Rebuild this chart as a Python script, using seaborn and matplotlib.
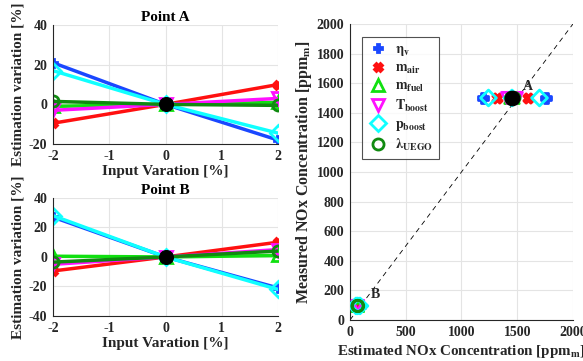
import numpy as np
import pandas as pd
import matplotlib
matplotlib.use("Agg")
import matplotlib.pyplot as plt
import seaborn as sns

# ---------------- data ----------------
input_var = [-2, 0, 2]
variables = ["eta_v", "m_air", "m_fuel", "T_boost", "p_boost", "lambda"]
labels = [r"$\mathbf{\eta_v}$", r"$\mathbf{m_{air}}$", r"$\mathbf{m_{fuel}}$",
          r"$\mathbf{T_{boost}}$", r"$\mathbf{p_{boost}}$", r"$\mathbf{\lambda_{UEGO}}$"]

pointA_eta_v = [21, 0, -18]
pointA_m_air = [-9.5, 0, 10]
pointA_m_fuel = [-1, 0, 1]
pointA_T_boost = [-3, 0, 3]
pointA_p_boost = [17, 0, -14.5]
pointA_lambda = [1.5, 0, -0.5]

pointB_eta_v = [27, 0, -21]
pointB_m_air = [-9.5, 0, 10]
pointB_m_fuel = [0.5, 0, 1]
pointB_T_boost = [-5, 0, 5]
pointB_p_boost = [28, 0, -22]
pointB_lambda = [-3.5, 0, 4]

nominal_est = {"A": 1453, "B": 70}
measured = {"A": 1500, "B": 95}

colors = ["#1a47ff", "#ff1010", "#10e010", "#ff10ff", "#10ffff", "#108a10"]
markers = ["P", "X", "^", "v", "D", "o"]

ptA = [pointA_eta_v, pointA_m_air, pointA_m_fuel, pointA_T_boost, pointA_p_boost, pointA_lambda]
ptB = [pointB_eta_v, pointB_m_air, pointB_m_fuel, pointB_T_boost, pointB_p_boost, pointB_lambda]

rows = []
for pt, series in (("A", ptA), ("B", ptB)):
    for v, vals in zip(variables, series):
        for x, y in zip(input_var, vals):
            rows.append({"point": pt, "var": v, "x": x, "y": y,
                         "est": nominal_est[pt] * (1 + y / 100.0), "meas": measured[pt]})
df = pd.DataFrame(rows)

# ---------------- style ----------------
sns.set_theme(style="white")
plt.rcParams["font.family"] = ["Liberation Serif", "DejaVu Serif"]
plt.rcParams["font.weight"] = "bold"
plt.rcParams["axes.labelweight"] = "bold"
plt.rcParams["axes.titleweight"] = "bold"
plt.rcParams["mathtext.fontset"] = "stix"
plt.rcParams["axes.unicode_minus"] = False
tick_col = "#262626"

fig = plt.figure(figsize=(5.83, 3.61), dpi=100)
axA = fig.add_axes([0.0909, 0.601, 0.386, 0.3296])
axB = fig.add_axes([0.0909, 0.1247, 0.386, 0.327])
axR = fig.add_axes([0.6003, 0.1136, 0.3825, 0.82])


def style_ax(ax):
    ax.grid(True, color="#e4e4e4", linewidth=0.8)
    ax.set_axisbelow(True)
    for s in ["top", "right"]:
        ax.spines[s].set_visible(False)
    for s in ["left", "bottom"]:
        ax.spines[s].set_color(tick_col)
        ax.spines[s].set_linewidth(0.8)
    ax.tick_params(direction="in", length=3, width=0.8, colors=tick_col,
                   labelsize=10, pad=4)
    for lab in ax.get_xticklabels() + ax.get_yticklabels():
        lab.set_fontweight("bold")


def hollow(m):
    return m in ("^", "v", "D", "o")


for ax, pt, title, ylim, yt in ((axA, "A", "Point A", (-20, 40), [-20, 0, 20, 40]),
                                (axB, "B", "Point B", (-40, 40), [-40, -20, 0, 20, 40])):
    sub = df[df.point == pt]
    for v, c, m in zip(variables, colors, markers):
        d = sub[sub["var"] == v]
        sns.lineplot(data=d, x="x", y="y", ax=ax, color=c, linewidth=2.5,
                     marker=m, markersize=8 if hollow(m) else 6,
                     markerfacecolor="none" if hollow(m) else c,
                     markeredgecolor=c, markeredgewidth=2, legend=False)
    sns.scatterplot(x=[0], y=[0], ax=ax, color="black", s=100, zorder=10,
                    edgecolor="black", legend=False)
    ax.set_xlim(-2, 2)
    ax.set_ylim(*ylim)
    ax.set_xticks([-2, -1, 0, 1, 2])
    ax.set_yticks(yt)
    ax.set_title(title, fontsize=11, fontweight="bold", pad=3, color="black")
    ax.set_xlabel("Input Varation [%]", fontsize=11, color=tick_col, labelpad=2)
    ax.set_ylabel("Estimation variation [%]", fontsize=11, color=tick_col, labelpad=3)
    style_ax(ax)

# ---------------- right plot ----------------
lim = [0, 2000]
sns.lineplot(x=lim, y=lim, ax=axR, color="black", linewidth=0.6,
             linestyle=(0, (6, 5)), legend=False)
handles = []
for v, c, m, lab in zip(variables, colors, markers, labels):
    d = df[df["var"] == v]
    sns.scatterplot(data=d, x="est", y="meas", ax=axR, marker=m,
                    s=65 if hollow(m) else 45,
                    facecolor="none" if hollow(m) else c,
                    edgecolor=c, linewidth=2, legend=False, zorder=5)
    handles.append(plt.Line2D([], [], linestyle="none", marker=m, color=c,
                              markerfacecolor="none" if hollow(m) else c,
                              markeredgecolor=c, markeredgewidth=2,
                              markersize=8 if hollow(m) else 6, label=lab))
nom_x = [nominal_est["A"], nominal_est["B"]]
nom_y = [measured["A"], measured["B"]]
sns.scatterplot(x=nom_x[:1], y=nom_y[:1], ax=axR, color="black", s=110,
                edgecolor="black", zorder=10, legend=False)
axR.text(1550, 1580, "A", fontsize=10, fontweight="bold", va="center", ha="left")
axR.text(190, 170, "B", fontsize=10, fontweight="bold", va="center", ha="left")
axR.set_xlim(0, 2000)
axR.set_ylim(0, 2000)
axR.set_xticks([0, 500, 1000, 1500, 2000])
axR.set_yticks(np.arange(0, 2001, 200))
axR.set_xlabel(r"Estimated NOx Concentration [ppm$_{\mathbf{m}}$]", fontsize=10.8,
               color=tick_col, labelpad=3)
axR.set_ylabel(r"Measured NOx Concentration [ppm$_{\mathbf{m}}$]", fontsize=11.5,
               color=tick_col, labelpad=2)
style_ax(axR)
leg = axR.legend(handles=handles, loc="upper left", bbox_to_anchor=(0.054, 0.956),
                 frameon=True, fancybox=False, fontsize=10, handletextpad=0.5,
                 borderpad=0.45, labelspacing=0.28, handlelength=1.4,
                 borderaxespad=0)
leg.get_frame().set_edgecolor(tick_col)
leg.get_frame().set_linewidth(0.8)

fig.savefig("out.png", dpi=100)
